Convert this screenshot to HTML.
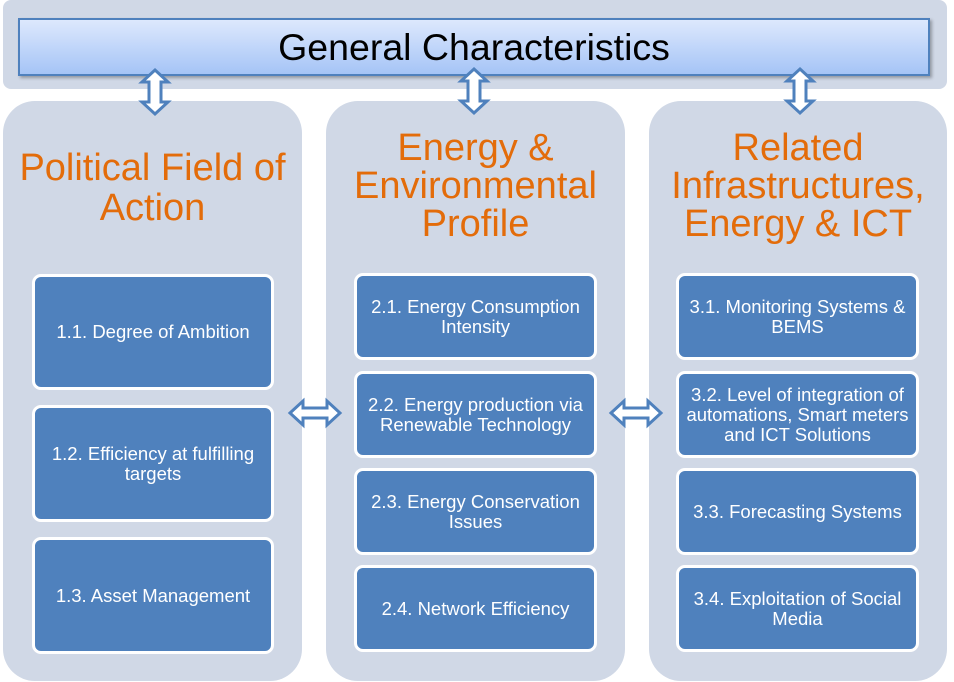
<!DOCTYPE html>
<html style="margin:0;width:954px;height:682px;overflow:hidden"><head><meta charset="utf-8"><style>
body{margin:0;width:954px;height:682px;background:#fff;position:relative;overflow:hidden;font-family:"Liberation Sans",Arial,sans-serif}
.a{position:absolute;box-sizing:border-box}
.panel{background:#d0d8e6}
.bar{left:18px;top:18px;width:912px;height:58px;border:2px solid #4f81bd;background:linear-gradient(#dde8fd,#a5c4f6);box-shadow:2px 2px 3px rgba(0,0,0,.3);text-align:center;font-size:37.5px;line-height:54px;color:#000}
.col{border-radius:32px}
.t{color:#e36c0a;font-size:38px;text-align:center;line-height:38px;white-space:nowrap}
.b{background:#4f81bd;border:3px solid #fff;border-radius:9px;color:#fff;font-size:18.5px;line-height:20px;display:flex;align-items:center;justify-content:center;text-align:center;padding:0 4px}
svg{position:absolute}
</style></head><body>
<div class="a panel" style="left:3px;top:0;width:944px;height:89px;border-radius:8px"></div>
<div class="a bar">General Characteristics</div>

<div class="a panel col" style="left:3px;top:101px;width:299px;height:580px"></div>
<div class="a panel col" style="left:326px;top:101px;width:299px;height:580px"></div>
<div class="a panel col" style="left:649px;top:101px;width:298px;height:580px"></div>

<div class="a t" style="left:3px;top:148px;width:299px;line-height:40px">Political Field of<br>Action</div>
<div class="a t" style="left:326px;top:129px;width:299px">Energy &amp;<br>Environmental<br>Profile</div>
<div class="a t" style="left:649px;top:129px;width:298px">Related<br>Infrastructures,<br>Energy &amp; ICT</div>

<div class="a b" style="left:32px;top:274px;width:242px;height:116px">1.1. Degree of Ambition</div>
<div class="a b" style="left:32px;top:405px;width:242px;height:117px">1.2. Efficiency at fulfilling targets</div>
<div class="a b" style="left:32px;top:537px;width:242px;height:117px">1.3. Asset Management</div>

<div class="a b" style="left:354px;top:273px;width:243px;height:87px">2.1. Energy Consumption Intensity</div>
<div class="a b" style="left:354px;top:371px;width:243px;height:87px">2.2. Energy production via Renewable Technology</div>
<div class="a b" style="left:354px;top:468px;width:243px;height:87px">2.3. Energy Conservation Issues</div>
<div class="a b" style="left:354px;top:565px;width:243px;height:87px">2.4. Network Efficiency</div>

<div class="a b" style="left:676px;top:273px;width:243px;height:87px">3.1. Monitoring Systems &amp; BEMS</div>
<div class="a b" style="left:676px;top:371px;width:243px;height:87px">3.2. Level of integration of automations, Smart meters and ICT Solutions</div>
<div class="a b" style="left:676px;top:468px;width:243px;height:87px">3.3. Forecasting Systems</div>
<div class="a b" style="left:676px;top:565px;width:243px;height:87px">3.4. Exploitation of Social Media</div>

<svg width="954" height="682" style="left:0;top:0">
<defs>
<path id="v" d="M0,-22 L13,-10 L6,-10 L6,10 L13,10 L0,22 L-13,10 L-6,10 L-6,-10 L-13,-10 Z"/>
<path id="h" d="M-25,0 L-12,-12 L-12,-5 L12,-5 L12,-12 L25,0 L12,12 L12,5 L-12,5 L-12,12 Z"/>
</defs>
<g fill="#fff" stroke="#4f81bd" stroke-width="3" stroke-linejoin="miter">
<use href="#v" x="155" y="92"/>
<use href="#v" x="474" y="91"/>
<use href="#v" x="800" y="91"/>
<use href="#h" x="315" y="413"/>
<use href="#h" x="636" y="413"/>
</g>
</svg>
</body></html>
